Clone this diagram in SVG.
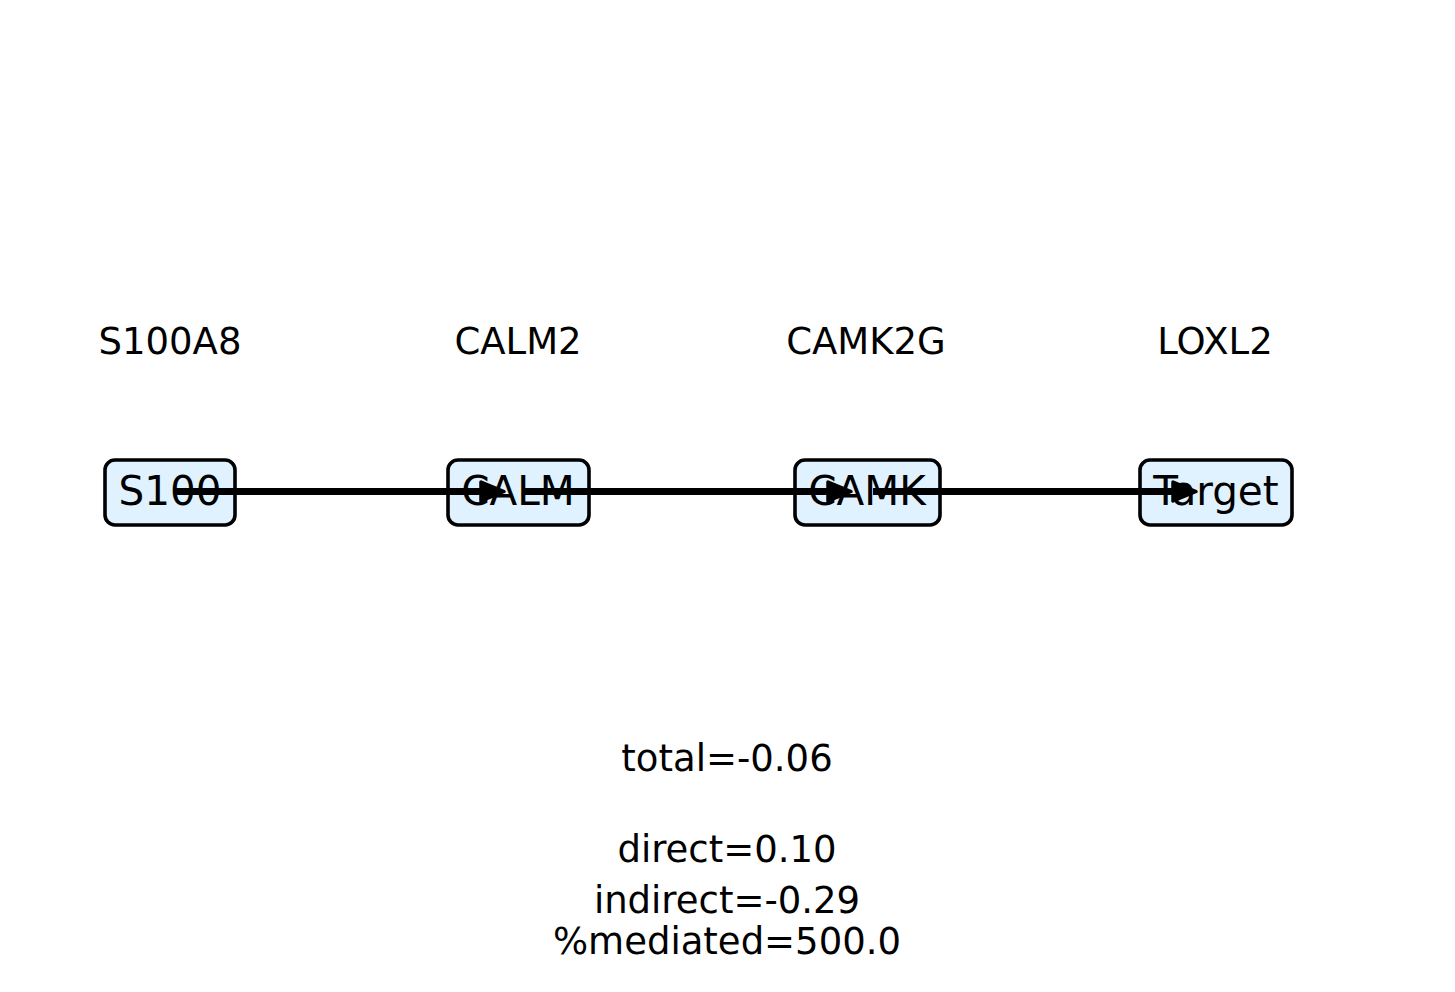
<svg xmlns="http://www.w3.org/2000/svg" width="1455" height="992" viewBox="0 0 1455 992">
<style>
.box{fill:#e0f2ff;stroke:#000;stroke-width:3.6}
.nt{font-family:"DejaVu Sans",sans-serif;font-size:40.5px;text-anchor:middle;fill:#000}
.lb{font-family:"DejaVu Sans",sans-serif;font-size:37px;text-anchor:middle;fill:#000}
.edge{stroke:#000;stroke-width:7;fill:none;marker-end:url(#ah)}
</style>
<defs>
<marker id="ah" markerUnits="userSpaceOnUse" markerWidth="40" markerHeight="40" viewBox="-20 -20 40 40" refX="0" refY="0" orient="auto">
<path d="M-13,-9.5 L10,0 L-13,9.5 Z" fill="#000" stroke="#000" stroke-width="3.5" stroke-linejoin="round"/>
</marker>
</defs>
<rect width="1455" height="992" fill="#fff"/>
<g id="labels">
<text class="lb" x="170" y="354">S100A8</text>
<text class="lb" x="518" y="354">CALM2</text>
<text class="lb" x="866" y="354">CAMK2G</text>
<text class="lb" x="1215" y="354">LOXL2</text>
</g>
<g id="node-S100">
<rect class="box" x="105" y="460" width="130" height="65" rx="10"/>
<text class="nt" x="170" y="505">S100</text>
</g>
<g id="node-CALM">
<rect class="box" x="448" y="460" width="141" height="65" rx="10"/>
<text class="nt" x="518" y="505">CALM</text>
</g>
<g id="node-CAMK">
<rect class="box" x="795" y="460" width="145" height="65" rx="10"/>
<text class="nt" x="867" y="505">CAMK</text>
</g>
<g id="node-Target">
<rect class="box" x="1140" y="460" width="152" height="65" rx="10"/>
<text class="nt" x="1216" y="505">Target</text>
</g>
<g id="connectors">
<path class="edge" d="M175,491.5 H494"/>
<path class="edge" d="M524,491.5 H841"/>
<path class="edge" d="M873,491.5 H1186"/>
</g>
<g id="stats">
<text class="lb" x="727" y="771">total=-0.06</text>
<text class="lb" x="727" y="862">direct=0.10</text>
<text class="lb" x="727" y="913">indirect=-0.29</text>
<text class="lb" x="727" y="954">%mediated=500.0</text>
</g>
</svg>
